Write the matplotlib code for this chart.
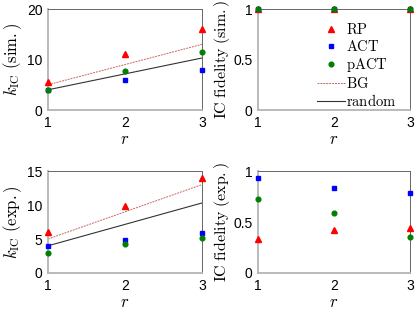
import numpy as np
import matplotlib.pyplot as plt

plt.rcParams['mathtext.fontset'] = 'cm'
plt.rcParams['font.family'] = ['Liberation Sans', 'DejaVu Sans']

r = [1, 2, 3]

# simulation
rp_sim = [5.5, 11, 16]
act_sim = [4, 6, 8]
pact_sim = [4, 7.7, 11.5]
fid_rp_sim = [1, 1, 1]
fid_act_sim = [1, 1, 1]
fid_pact_sim = [1, 1, 1]

# experiment
rp_exp = [6.0, 9.8, 14.0]
act_exp = [3.9, 4.9, 5.9]
pact_exp = [2.95, 4.3, 5.2]
fid_rp_exp = [0.335, 0.426, 0.446]
fid_act_exp = [0.93, 0.83, 0.78]
fid_pact_exp = [0.73, 0.59, 0.355]

# reference lines
bg = [5, 9, 13]
rand = [4, 7.15, 10.3]

fig = plt.figure(figsize=(4.15, 3.16), dpi=100)
W, H = 415, 316
boxes = [(48, 9, 202, 110), (258, 9, 410, 110),
         (48, 171, 202, 273), (258, 171, 410, 273)]
axs = [fig.add_axes([x0 / W, 1 - y1 / H, (x1 - x0) / W, (y1 - y0) / H])
       for x0, y0, x1, y1 in boxes]

def style(ax):
    for s in ['left', 'bottom']:
        ax.spines[s].set_color('#b4b4b4')
        ax.spines[s].set_linewidth(1.3)
    for s in ['top', 'right']:
        ax.spines[s].set_color('#666666')
        ax.spines[s].set_linewidth(0.7)
    ax.tick_params(length=0, labelsize=10, pad=4)
    ax.set_xlim(1, 3)
    ax.set_xticks([1, 2, 3])
    ax.set_xlabel(r'$r$', fontsize=12, labelpad=2)

def pts(ax, a, b, c):
    ax.plot(r, a, '^', color='red', ms=3.8, clip_on=False, zorder=5, label=r'$\mathrm{RP}$')
    ax.plot(r, b, 's', color='blue', ms=3.2, clip_on=False, zorder=5, label=r'$\mathrm{ACT}$')
    ax.plot(r, c, 'o', color='green', ms=3.4, clip_on=False, zorder=6, label=r'$\mathrm{pACT}$')

def lines(ax):
    ax.plot(r, bg, '--', color='#c86464', lw=0.7, dashes=(2, 1), label=r'$\mathrm{BG}$')
    ax.plot(r, rand, '-', color='#333333', lw=0.8, label=r'$\mathrm{random}$')

ax = axs[0]
lines(ax)
pts(ax, rp_sim, act_sim, pact_sim)
ax.set_ylim(0, 20)
ax.set_yticks([0, 10, 20])
ax.set_ylabel(r'$k_{\mathrm{IC}}\ \mathrm{(sim.)}$', fontsize=12, labelpad=2)
style(ax)

ax = axs[1]
pts(ax, fid_rp_sim, fid_act_sim, fid_pact_sim)
lines(ax)
ax.lines[-1].set_data([], [])
ax.lines[-2].set_data([], [])
ax.set_ylim(0, 1)
ax.set_yticks([0, 0.5, 1])
ax.set_yticklabels(['0', '0.5', '1'])
ax.set_ylabel(r'$\mathrm{IC\ fidelity\ (sim.)}$', fontsize=11.5, labelpad=1)
style(ax)
h, l = ax.get_legend_handles_labels()
ax.legend(h, l, loc='center right', bbox_to_anchor=(0.975, 0.44), frameon=False,
          fontsize=10.5, handlelength=1.9, handletextpad=0.05, labelspacing=0.15,
          borderpad=0.2)

ax = axs[2]
lines(ax)
pts(ax, rp_exp, act_exp, pact_exp)
ax.set_ylim(0, 15)
ax.set_yticks([0, 5, 10, 15])
ax.set_ylabel(r'$k_{\mathrm{IC}}\ \mathrm{(exp.)}$', fontsize=12, labelpad=2)
style(ax)

ax = axs[3]
pts(ax, fid_rp_exp, fid_act_exp, fid_pact_exp)
ax.set_ylim(0, 1)
ax.set_yticks([0, 0.5, 1])
ax.set_yticklabels(['0', '0.5', '1'])
ax.set_ylabel(r'$\mathrm{IC\ fidelity\ (exp.)}$', fontsize=11.5, labelpad=1)
style(ax)

fig.savefig('out.png', dpi=100)
